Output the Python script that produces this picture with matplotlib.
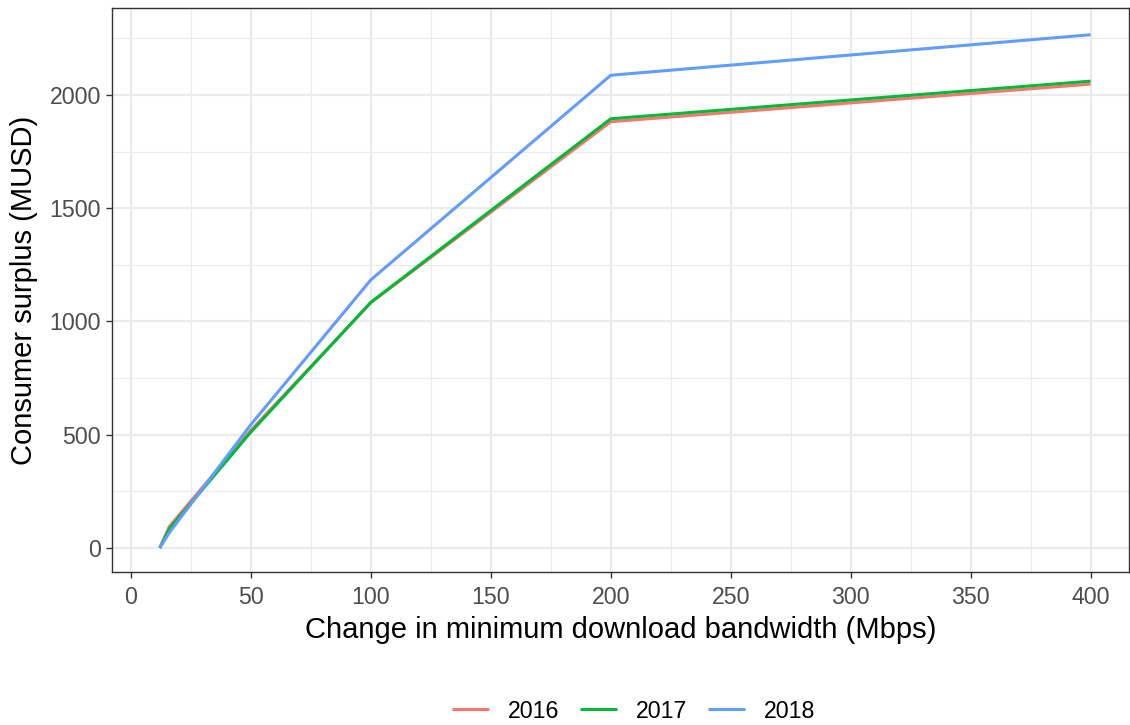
import matplotlib
matplotlib.use("Agg")
import matplotlib.pyplot as plt
from matplotlib.ticker import MultipleLocator

plt.rcParams['font.family'] = ['Liberation Sans', 'DejaVu Sans']

bandwidth = [12, 16, 50, 100, 200, 400]
surplus_2016 = [0, 95, 520, 1083, 1882, 2048]
surplus_2017 = [0, 85, 512, 1085, 1895, 2061]
surplus_2018 = [0, 68, 545, 1184, 2087, 2266]
years = ["2016", "2017", "2018"]
colors = ["#F8766D", "#00BA38", "#619CFF"]

fig = plt.figure(figsize=(11.3, 7.25), dpi=100)
ax = fig.add_axes([112/1130, 1-572/725, (1129-112)/1130, (572-8)/725])

for ys, lab, c in zip([surplus_2016, surplus_2017, surplus_2018], years, colors):
    ax.plot(bandwidth, ys, color=c, lw=2.2, label=lab, solid_capstyle='butt')

ax.set_xlim(-7.9, 416)
ax.set_ylim(-106, 2384)
ax.xaxis.set_major_locator(MultipleLocator(50))
ax.xaxis.set_minor_locator(MultipleLocator(25))
ax.yaxis.set_major_locator(MultipleLocator(500))
ax.yaxis.set_minor_locator(MultipleLocator(250))
ax.grid(which='major', color='#EBEBEB', lw=1.6)
ax.grid(which='minor', color='#EBEBEB', lw=0.8)
ax.set_axisbelow(True)
for s in ax.spines.values():
    s.set_color('#333333')
    s.set_linewidth(1.0)
ax.tick_params(which='major', length=4, width=1.0, color='#333333',
               labelsize=16.7, labelcolor='#4D4D4D')
ax.tick_params(axis='x', which='major', pad=6)
ax.tick_params(axis='y', which='major', pad=4)
ax.tick_params(which='minor', length=0)
ax.set_xlabel("Change in minimum download bandwidth (Mbps)", fontsize=21, labelpad=5)
ax.set_ylabel("Consumer surplus (MUSD)", fontsize=21, labelpad=8)

leg = fig.legend(loc='center', bbox_to_anchor=(0.5606, 1-711/725), ncol=3,
                 frameon=False, fontsize=16.7, handlelength=1.6,
                 columnspacing=0.9, handletextpad=0.8)

fig.savefig("out.png", dpi=100)
